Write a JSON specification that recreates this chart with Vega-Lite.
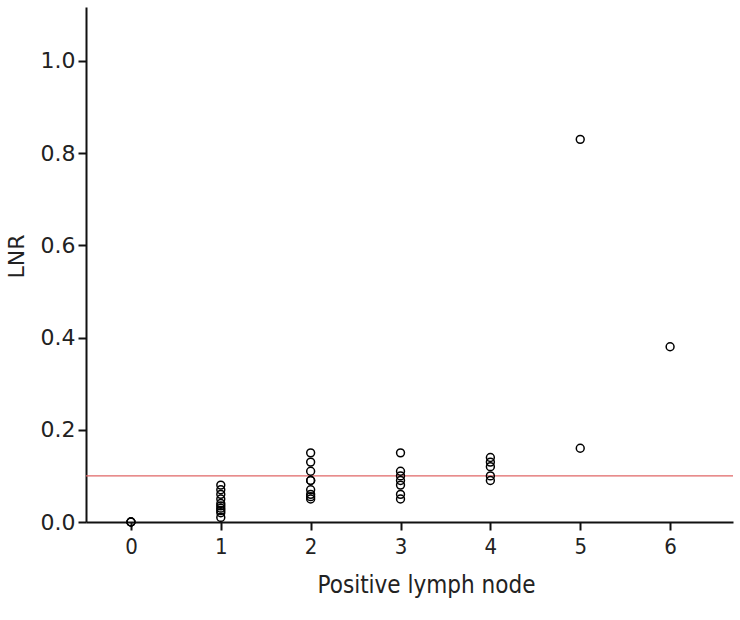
{
  "$schema": "https://vega.github.io/schema/vega-lite/v6.json",
  "width": 647,
  "height": 515,
  "autosize": {"type": "none"},
  "padding": {"left": 86, "top": 7, "right": 7, "bottom": 98},
  "background": "white",
  "config": {"view": {"stroke": null}},
  "datasets": {
    "pts": [
      {"node": 0, "lnr": 0.0}, {"node": 0, "lnr": 0.0}, {"node": 0, "lnr": 0.0},
      {"node": 1, "lnr": 0.01}, {"node": 1, "lnr": 0.02}, {"node": 1, "lnr": 0.025}, {"node": 1, "lnr": 0.03},
      {"node": 1, "lnr": 0.035}, {"node": 1, "lnr": 0.04}, {"node": 1, "lnr": 0.05}, {"node": 1, "lnr": 0.06},
      {"node": 1, "lnr": 0.07}, {"node": 1, "lnr": 0.08},
      {"node": 2, "lnr": 0.15}, {"node": 2, "lnr": 0.13}, {"node": 2, "lnr": 0.11}, {"node": 2, "lnr": 0.09},
      {"node": 2, "lnr": 0.09}, {"node": 2, "lnr": 0.07}, {"node": 2, "lnr": 0.06}, {"node": 2, "lnr": 0.055}, {"node": 2, "lnr": 0.05},
      {"node": 3, "lnr": 0.15}, {"node": 3, "lnr": 0.11}, {"node": 3, "lnr": 0.10}, {"node": 3, "lnr": 0.09},
      {"node": 3, "lnr": 0.08}, {"node": 3, "lnr": 0.06}, {"node": 3, "lnr": 0.05},
      {"node": 4, "lnr": 0.14}, {"node": 4, "lnr": 0.13}, {"node": 4, "lnr": 0.12}, {"node": 4, "lnr": 0.10}, {"node": 4, "lnr": 0.09},
      {"node": 5, "lnr": 0.83}, {"node": 5, "lnr": 0.16},
      {"node": 6, "lnr": 0.38}
    ],
    "ref": [{"lnr": 0.1}]
  },
  "layer": [
    {
      "data": {"name": "ref"},
      "mark": {"type": "rule", "color": "#e06666", "strokeWidth": 1.2},
      "encoding": {"y": {"field": "lnr", "type": "quantitative", "scale": {"domain": [0, 1.117]}}}
    },
    {
      "data": {"name": "pts"},
      "mark": {"type": "point", "shape": "circle", "filled": false, "color": "black", "strokeWidth": 1.5, "size": 62, "opacity": 1},
      "encoding": {
        "x": {
          "field": "node", "type": "quantitative",
          "scale": {"domain": [-0.5, 6.7], "nice": false, "zero": false},
          "axis": {
            "values": [0, 1, 2, 3, 4, 5, 6], "format": "d", "grid": false,
            "title": "Positive lymph node", "titleFont": "DejaVu Sans Condensed, Roboto", "titleFontSize": 24,
            "titleFontWeight": "normal", "titleColor": "#222", "titlePadding": 16, "titleX": 340, "titleAlign": "center",
            "labelFont": "DejaVu Sans Condensed, Roboto", "labelFontSize": 22, "labelColor": "#222", "labelPadding": 6,
            "domainColor": "#111", "domainWidth": 2, "tickColor": "#111", "tickWidth": 2, "tickSize": 8
          }
        },
        "y": {
          "field": "lnr", "type": "quantitative",
          "scale": {"domain": [0, 1.117], "nice": false},
          "axis": {
            "values": [0, 0.2, 0.4, 0.6, 0.8, 1.0], "format": ".1f", "grid": false,
            "title": "LNR", "titleFont": "DejaVu Sans", "titleFontSize": 22, "titleFontWeight": "normal",
            "titleColor": "#222", "titlePadding": 12, "titleY": 249,
            "labelFont": "DejaVu Sans", "labelFontSize": 22, "labelColor": "#222", "labelPadding": 3,
            "domainColor": "#111", "domainWidth": 2, "tickColor": "#111", "tickWidth": 2, "tickSize": 8
          }
        }
      }
    }
  ]
}
